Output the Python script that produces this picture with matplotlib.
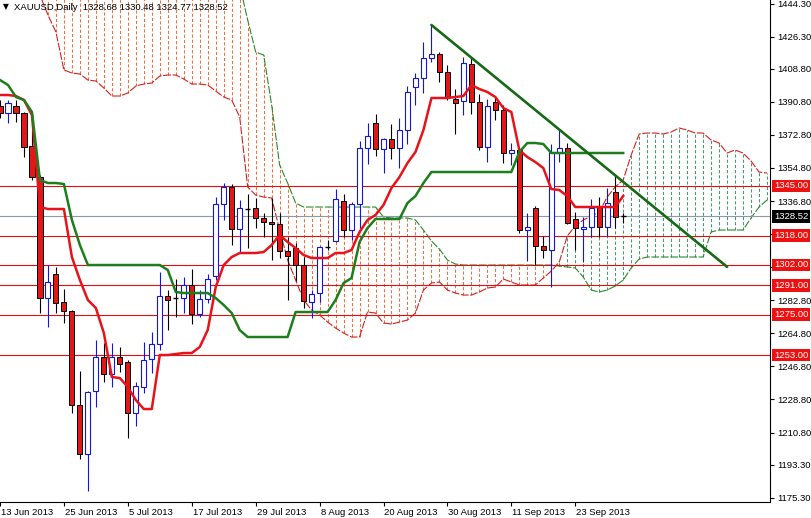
import matplotlib
matplotlib.use("Agg")
import matplotlib.pyplot as plt
import matplotlib.transforms as mtransforms
import numpy as np

plt.rcParams['font.family'] = ['Liberation Sans', 'DejaVu Sans']

# ---------------- data ----------------
opens = [1388.54, 1384.73, 1388.54, 1384.73, 1366.77, 1349.89, 1284.02, 1297.08, 1281.84, 1276.94,
         1225.77, 1199.09, 1233.39, 1251.90, 1242.64, 1251.90, 1249.18, 1221.41, 1235.57, 1250.81,
         1258.98, 1285.11, 1284.56, 1284.02, 1291.10, 1275.31, 1283.47, 1296.00, 1335.19, 1344.45,
         1321.58, 1333.01, 1333.01, 1327.57, 1325.39, 1324.30, 1309.61, 1311.24, 1301.98, 1281.84,
         1286.74, 1311.78, 1315.05, 1336.83, 1321.04, 1335.19, 1365.68, 1379.29, 1365.13, 1370.58,
         1365.68, 1375.48, 1398.89, 1403.79, 1414.67, 1416.85, 1407.05, 1392.35, 1391.27, 1411.41,
         1390.72, 1366.22, 1390.72, 1386.37, 1362.96, 1364.59, 1321.04, 1333.01, 1312.33, 1310.15,
         1362.96, 1365.68, 1327.03, 1321.60, 1322.67, 1333.56, 1322.67, 1341.73, 1328.68]
highs = [1391.81, 1391.81, 1391.81, 1385.30, 1375.48, 1350.98, 1301.98, 1300.90, 1288.92, 1277.49,
         1244.28, 1233.39, 1261.15, 1259.52, 1259.52, 1257.34, 1250.27, 1238.29, 1260.07, 1265.51,
         1298.17, 1288.37, 1294.36, 1295.45, 1299.81, 1288.37, 1297.08, 1339.00, 1346.62, 1346.08,
         1337.37, 1340.64, 1338.46, 1330.29, 1338.46, 1330.29, 1317.23, 1313.96, 1306.34, 1288.37,
         1312.60, 1315.59, 1343.36, 1340.64, 1336.28, 1369.49, 1379.29, 1384.19, 1371.12, 1378.74,
         1382.01, 1399.43, 1406.51, 1423.39, 1432.64, 1417.94, 1410.86, 1397.80, 1415.22, 1414.67,
         1395.08, 1392.35, 1393.44, 1389.09, 1368.40, 1365.68, 1330.29, 1334.10, 1317.77, 1367.86,
         1375.48, 1368.40, 1330.84, 1328.12, 1337.91, 1339.00, 1343.90, 1350.44, 1330.48]
lows = [1382.01, 1379.29, 1379.83, 1360.78, 1348.26, 1275.85, 1268.23, 1275.85, 1270.41, 1221.41,
        1196.37, 1178.95, 1224.68, 1238.29, 1235.57, 1243.73, 1207.80, 1214.34, 1232.30, 1243.19,
        1255.71, 1266.60, 1273.68, 1275.85, 1269.86, 1273.68, 1281.30, 1293.82, 1326.48, 1312.87,
        1308.52, 1311.24, 1322.13, 1317.23, 1304.71, 1305.79, 1282.93, 1293.27, 1278.57, 1273.13,
        1281.84, 1310.15, 1314.51, 1317.23, 1315.59, 1322.13, 1356.97, 1361.32, 1352.07, 1359.69,
        1354.79, 1367.86, 1389.09, 1395.62, 1412.50, 1401.61, 1391.81, 1373.30, 1383.64, 1384.19,
        1364.59, 1358.06, 1380.92, 1357.51, 1356.42, 1319.40, 1304.16, 1301.98, 1305.79, 1290.01,
        1358.06, 1324.30, 1310.15, 1303.62, 1317.23, 1317.23, 1317.77, 1322.13, 1324.77]
closes = [1384.73, 1390.18, 1384.73, 1366.22, 1349.89, 1284.02, 1292.73, 1281.30, 1276.94, 1225.77,
          1199.09, 1232.85, 1251.90, 1242.64, 1251.90, 1248.09, 1221.41, 1236.11, 1250.27, 1258.98,
          1285.11, 1282.93, 1284.02, 1291.10, 1275.31, 1283.47, 1294.36, 1335.19, 1344.45, 1321.58,
          1333.01, 1332.47, 1327.57, 1325.39, 1324.30, 1309.61, 1306.88, 1301.98, 1282.39, 1286.20,
          1311.78, 1311.60, 1337.91, 1321.04, 1335.19, 1365.68, 1372.21, 1365.13, 1370.58, 1365.68,
          1375.48, 1396.17, 1403.79, 1414.67, 1416.85, 1407.05, 1393.44, 1390.18, 1411.95, 1390.72,
          1366.22, 1388.54, 1386.37, 1362.96, 1364.59, 1321.04, 1322.67, 1312.33, 1310.15, 1363.50,
          1365.68, 1324.85, 1322.13, 1322.67, 1333.01, 1322.67, 1335.74, 1328.12, 1328.52]

tenkan = [1394.53, 1394.53, 1393.99, 1391.81, 1383.64, 1333.56, 1332.47, 1332.47, 1332.47, 1306.34,
          1293.82, 1282.93, 1278.57, 1264.96, 1241.01, 1240.47, 1235.57, 1228.49, 1223.59, 1223.59,
          1252.99, 1252.99, 1253.53, 1254.08, 1254.08, 1257.34, 1266.60, 1290.01, 1301.98, 1306.34,
          1308.52, 1308.52, 1308.52, 1309.06, 1312.87, 1318.32, 1314.51, 1311.24, 1307.43, 1305.79,
          1305.79, 1305.79, 1308.52, 1308.52, 1310.15, 1319.95, 1326.48, 1329.20, 1334.65, 1343.90,
          1349.89, 1357.51, 1363.50, 1375.48, 1392.90, 1392.90, 1392.90, 1393.44, 1393.99, 1399.98,
          1397.80, 1396.17, 1393.44, 1387.45, 1385.28, 1364.59, 1360.78, 1358.06, 1354.79, 1343.36,
          1342.81, 1339.55, 1333.56, 1333.56, 1333.56, 1333.56, 1333.56, 1333.56, 1339.55]
kijun = [1402.70, 1399.98, 1393.44, 1391.81, 1385.28, 1348.26, 1346.62, 1346.62, 1346.08, 1326.48,
         1312.87, 1301.98, 1301.98, 1301.98, 1301.98, 1301.98, 1301.98, 1301.98, 1301.98, 1301.98,
         1301.98, 1299.26, 1287.29, 1286.74, 1286.74, 1286.74, 1286.74, 1284.02, 1280.21, 1275.85,
         1266.60, 1262.79, 1262.79, 1262.79, 1262.79, 1262.79, 1262.79, 1276.40, 1276.40, 1276.40,
         1276.40, 1276.40, 1282.93, 1292.18, 1294.91, 1314.51, 1322.13, 1327.03, 1327.03, 1327.03,
         1327.03, 1335.74, 1339.55, 1346.62, 1352.61, 1352.61, 1352.61, 1352.61, 1352.61, 1352.61,
         1352.61, 1352.61, 1352.61, 1352.61, 1352.61, 1363.50, 1368.40, 1368.40, 1367.86, 1362.96,
         1362.96, 1362.96, 1362.96, 1362.96, 1362.96, 1362.96, 1362.96, 1362.96, 1362.96]
senkou_a = [1457.14, 1457.14, 1457.14, 1457.14, 1454.42, 1448.97, 1438.08, 1428.83, 1408.14, 1406.51,
            1405.96, 1402.70, 1402.15, 1398.34, 1393.99, 1393.99, 1395.62, 1399.43, 1400.52, 1401.06,
            1404.88, 1405.42, 1405.42, 1403.24, 1400.52, 1400.52, 1399.98, 1396.71, 1393.44, 1391.81,
            1382.56, 1344.45, 1340.09, 1339.00, 1338.46, 1321.04, 1304.71, 1293.82, 1282.93, 1277.49,
            1274.76, 1270.95, 1267.69, 1264.96, 1262.79, 1262.79, 1276.40, 1275.85, 1270.41, 1269.86,
            1270.95, 1272.04, 1275.85, 1288.37, 1292.18, 1292.73, 1288.37, 1286.74, 1285.65, 1285.65,
            1287.29, 1289.46, 1290.01, 1294.36, 1292.73, 1291.10, 1291.10, 1291.10, 1294.91, 1298.72,
            1303.62, 1317.77, 1323.22, 1326.48, 1328.66, 1330.84, 1339.00, 1344.45, 1348.26, 1361.87,
            1373.30, 1373.84, 1373.84, 1373.30, 1374.39, 1376.57, 1375.48, 1373.84, 1373.84, 1370.03,
            1368.40, 1362.96, 1364.59, 1362.96, 1358.60, 1352.61, 1352.07]
senkou_b = [1462.60] * 30 + [
            1454.42, 1435.36, 1417.94, 1416.31, 1389.09, 1356.42, 1346.62, 1335.74, 1333.56, 1333.56,
            1333.56, 1333.56, 1333.56, 1333.56, 1333.56, 1333.56, 1333.56, 1333.56, 1328.12, 1327.57,
            1327.57, 1327.57, 1326.48, 1321.04, 1315.05, 1310.69, 1304.71, 1302.53, 1301.98, 1301.98,
            1301.98, 1301.98, 1301.98, 1301.98, 1301.98, 1301.98, 1301.98, 1301.98, 1301.98, 1301.98,
            1301.44, 1300.90, 1300.35, 1295.45, 1288.37, 1287.29, 1288.37, 1290.55, 1293.82, 1300.35,
            1305.25, 1306.34, 1306.34, 1306.34, 1306.34, 1306.34, 1306.34, 1306.34, 1306.34, 1319.95,
            1321.04, 1321.04, 1321.04, 1321.04, 1327.57, 1333.56, 1337.37]

levels = [1345.00, 1318.00, 1302.00, 1291.00, 1275.00, 1253.00]
level_labels = ["1345.00", "1318.00", "1302.00", "1291.00", "1275.00", "1253.00"]
last_price = 1328.52
trend_x = [54, 91]
trend_y = [1432.64, 1301.00]

date_pos = [0, 8, 16, 24, 32, 40, 48, 56, 64, 72]
date_labels = ["13 Jun 2013", "25 Jun 2013", "5 Jul 2013", "17 Jul 2013", "29 Jul 2013",
               "8 Aug 2013", "20 Aug 2013", "30 Aug 2013", "11 Sep 2013", "23 Sep 2013"]
ytick_vals = [1444.30, 1426.30, 1408.80, 1390.80, 1372.80, 1354.80, 1336.80, 1318.80,
              1300.80, 1282.80, 1264.80, 1246.80, 1228.80, 1210.80, 1193.30, 1175.30]
ytick_labels = ["1444.30", "1426.30", "1408.80", "1390.80", "1372.80", "1354.80", "1336.80", "",
                "", "1282.80", "1264.80", "1246.80", "1228.80", "1210.80", "1193.30", "1175.30"]
title = "XAUUSD,Daily  1328.68 1330.48 1324.77 1328.52"

# ---------------- styles ----------------
BULL = "#1414E0"
BEAR = "#E01818"
LEVEL = "#E01010"
TENKAN = "#E8121A"
KIJUN = "#1E7E1E"
TREND = "#166A16"
HATCH_BEAR = "#EE7040"
HATCH_BULL = "#3A9E70"
FS = 6.8

W, H = 811, 518
fig = plt.figure(figsize=(W / 100, H / 100), dpi=100)
ax = fig.add_axes([0, 16 / H, 770 / W, 502 / H])
ax.set_xlim(0.125, 96.375)
ax.set_ylim(1172.98, 1446.25)

# cloud hatch
a = np.array(senkou_a)
b = np.array(senkou_b)
xc = np.arange(len(a))
lo = np.minimum(a, b)
hi = np.maximum(a, b)
cols = [HATCH_BEAR if bb > aa else HATCH_BULL for aa, bb in zip(a, b)]
ax.vlines(xc, lo, hi, colors=cols, linestyles=(0, (3, 2)), linewidth=0.75, zorder=1)
ax.plot(xc, a, color="#D42020", lw=0.8, ls=(0, (7, 1.5)), zorder=2)
ax.plot(xc, b, color="#2A8A2A", lw=0.8, ls=(0, (7, 1.5)), zorder=2)

# levels
for lv in levels:
    ax.axhline(lv, color=LEVEL, lw=0.8, zorder=2.5)
ax.axhline(last_price, color="#8A9AA8", lw=0.8, zorder=2.5)

# candles
bw = 0.64
for i, (o, h, l, c) in enumerate(zip(opens, highs, lows, closes)):
    if abs(c - o) < 0.6:
        ax.vlines(i, l, h, color="black", lw=0.8, zorder=3)
        ax.hlines((o + c) / 2, i - bw / 2, i + bw / 2, color="black", lw=1.0, zorder=3.2)
    elif c > o:
        ax.vlines(i, l, h, color=BULL, lw=0.8, zorder=3)
        ax.bar(i, c - o, bw, bottom=o, facecolor="white", edgecolor=BULL, linewidth=0.8, zorder=3.2)
    else:
        ax.vlines(i, l, h, color="black", lw=0.8, zorder=3)
        ax.bar(i, o - c, bw, bottom=c, facecolor=BEAR, edgecolor="black", linewidth=0.7, zorder=3.2)

# ichimoku lines
ax.plot(np.arange(len(tenkan)), tenkan, color=TENKAN, lw=1.8, zorder=4, solid_joinstyle="round")
ax.plot(np.arange(len(kijun)), kijun, color=KIJUN, lw=1.8, zorder=4, solid_joinstyle="round")
ax.plot(trend_x, trend_y, color=TREND, lw=1.9, zorder=5, solid_capstyle="round")

# axes styling
for s in ["left", "top"]:
    ax.spines[s].set_visible(False)
for s in ["right", "bottom"]:
    ax.spines[s].set_color("black")
    ax.spines[s].set_linewidth(0.8)
ax.yaxis.tick_right()
ax.set_yticks(ytick_vals)
ax.set_yticklabels(ytick_labels)
ax.tick_params(axis="y", direction="out", length=3, width=0.8, pad=2, labelsize=FS, colors="black")
ax.set_xticks(date_pos)
ax.set_xticklabels([])
ax.tick_params(axis="x", direction="out", length=3, width=0.8)
xtrans = mtransforms.blended_transform_factory(ax.transData, ax.transAxes)
for p, lab in zip(date_pos, date_labels):
    ax.text(p + 0.12, -0.012, lab, transform=xtrans, ha="left", va="top", fontsize=FS, clip_on=False)

ytrans = mtransforms.blended_transform_factory(ax.transAxes, ax.transData)
for lv, lab in zip(levels, level_labels):
    ax.text(1 + 4 / 770, lv, lab, transform=ytrans, ha="left", va="center", color="white", fontsize=FS,
            bbox=dict(boxstyle="square,pad=0.2", fc="#EE1111", ec="none"), clip_on=False, zorder=10)
ax.text(1 + 4 / 770, last_price, f"{last_price:.2f}", transform=ytrans, ha="left", va="center",
        color="white", fontsize=FS, bbox=dict(boxstyle="square,pad=0.2", fc="black", ec="none"),
        clip_on=False, zorder=10)

fig.text(3 / W, 1 - 7 / H, "\u25bc", family="DejaVu Sans", fontsize=5.5, va="center", ha="left")
fig.text(14 / W, 1 - 7 / H, title, fontsize=FS, va="center", ha="left")

fig.savefig("out.png", dpi=100, facecolor="white")
